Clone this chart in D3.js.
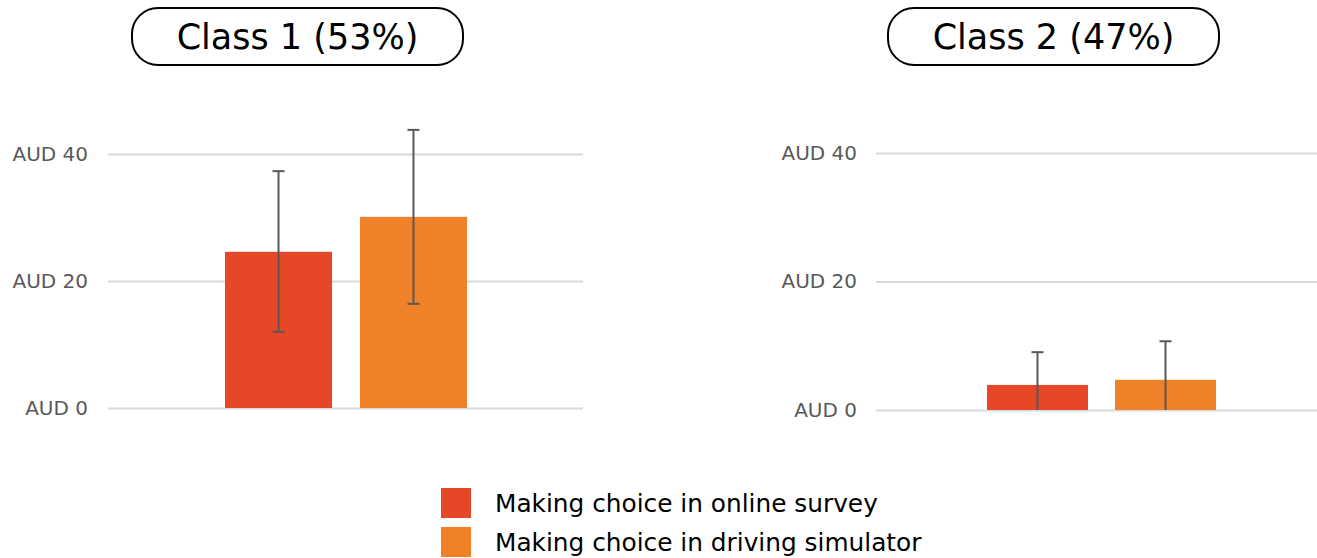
<!DOCTYPE html>
<html>
<head>
<meta charset="utf-8">
<script src="https://cdn.jsdelivr.net/npm/d3@7"></script>
<style>
  html, body { margin: 0; padding: 0; background: #ffffff; }
  svg { display: block; font-family: "DejaVu Sans", "Open Sans", sans-serif; }
</style>
</head>
<body>
<svg id="chart" width="1317" height="558"></svg>
<script>
// ---- data ----
const panels = ["Class 1 (53%)", "Class 2 (47%)"];
const seriesNames = ["Making choice in online survey", "Making choice in driving simulator"];
const seriesColors = ["#E54727", "#EF8128"];
const class1Values = [24.6, 30.1];
const class1Upper = [37.3, 43.8];
const class1Lower = [12.0, 16.4];
const class2Values = [3.9, 4.7];
const class2Upper = [9.0, 10.7];
const class2Lower = [-1.2, -1.3];
const yTicks = [0, 20, 40];
const yTickLabels = ["AUD 0", "AUD 20", "AUD 40"];

// ---- layout ----
const svg = d3.select("#chart");
const layouts = [
  { gridX: [108, 583], barRange: [225, 467], inner: 0.207, y0: 408, y40: 154, labelX: 88, box: [132, 8, 331, 57],
    values: class1Values, upper: class1Upper, lower: class1Lower },
  { gridX: [876, 1330], barRange: [987, 1216], inner: 0.211, y0: 410, y40: 153, labelX: 857, box: [888, 8, 331, 57],
    values: class2Values, upper: class2Upper, lower: class2Lower }
];

layouts.forEach((L, pi) => {
  const g = svg.append("g");
  const y = d3.scaleLinear().domain([0, 40]).range([L.y0, L.y40]);
  const x = d3.scaleBand().domain(seriesNames).range(L.barRange).paddingInner(L.inner).paddingOuter(0);

  const axis = d3.axisLeft(y).tickValues(yTicks)
    .tickSize(-(L.gridX[1] - L.gridX[0]))
    .tickPadding(L.gridX[0] - L.labelX)
    .tickFormat((d, i) => yTickLabels[i]);
  const ag = g.append("g").attr("transform", `translate(${L.gridX[0]},0)`).call(axis);
  ag.select(".domain").remove();
  ag.selectAll(".tick line").attr("stroke", "#d9d9d9").attr("stroke-width", 2);
  ag.selectAll(".tick text").attr("fill", "#595959").attr("font-size", 20)
    .attr("font-family", "DejaVu Sans, sans-serif");

  g.selectAll("rect.bar").data(L.values).join("rect")
    .attr("class", "bar")
    .attr("x", (d, i) => x(seriesNames[i]))
    .attr("width", x.bandwidth())
    .attr("y", d => y(d))
    .attr("height", d => y(0) - y(d))
    .attr("fill", (d, i) => seriesColors[i]);

  const capW = 12;
  L.values.forEach((v, i) => {
    const cx = x(seriesNames[i]) + x.bandwidth() / 2;
    const lo = Math.max(0, L.lower[i]);
    const hi = L.upper[i];
    g.append("line").attr("x1", cx).attr("x2", cx).attr("y1", y(lo)).attr("y2", y(hi))
      .attr("stroke", "#595959").attr("stroke-width", 2);
    g.append("line").attr("x1", cx - capW / 2).attr("x2", cx + capW / 2).attr("y1", y(hi)).attr("y2", y(hi))
      .attr("stroke", "#595959").attr("stroke-width", 2);
    if (L.lower[i] >= 0) {
      g.append("line").attr("x1", cx - capW / 2).attr("x2", cx + capW / 2).attr("y1", y(lo)).attr("y2", y(lo))
        .attr("stroke", "#595959").attr("stroke-width", 2);
    }
  });

  const [bx, by, bw, bh] = L.box;
  g.append("rect").attr("x", bx).attr("y", by).attr("width", bw).attr("height", bh)
    .attr("rx", 26).attr("ry", 26).attr("fill", "none").attr("stroke", "#000").attr("stroke-width", 2);
  g.append("text").attr("x", bx + bw / 2).attr("y", by + bh / 2).attr("dy", "0.36em")
    .attr("text-anchor", "middle").attr("font-size", 35).attr("fill", "#000")
    .text(panels[pi]);
});

const lg = svg.append("g");
seriesNames.forEach((s, i) => {
  lg.append("rect").attr("x", 441).attr("y", 488 + i * 39).attr("width", 30).attr("height", 30).attr("fill", seriesColors[i]);
  lg.append("text").attr("x", 495).attr("y", 503 + i * 39).attr("dy", "0.36em")
    .attr("font-size", 24.8).attr("fill", "#000").text(s);
});
</script>
</body>
</html>
